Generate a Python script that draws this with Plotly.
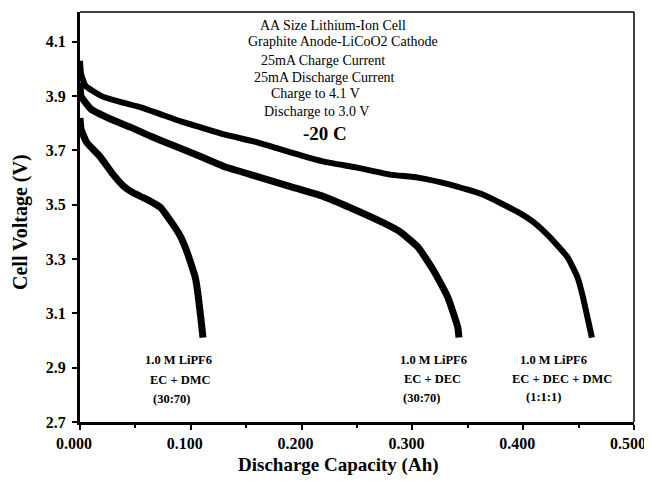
import plotly.graph_objects as go

# ---- data ----
cap_dmc = [0.000, 0.001, 0.006, 0.018, 0.030, 0.039, 0.048, 0.057, 0.066, 0.073, 0.079, 0.086,
           0.091, 0.096, 0.100, 0.104, 0.106, 0.109, 0.111]
volt_dmc = [3.82, 3.778, 3.730, 3.678, 3.611, 3.570, 3.544, 3.526, 3.507, 3.489, 3.456, 3.415,
            3.381, 3.333, 3.285, 3.233, 3.185, 3.085, 3.011]

cap_dec = [0.000, 0.001, 0.010, 0.028, 0.046, 0.064, 0.082, 0.100, 0.130, 0.160, 0.190, 0.220,
           0.244, 0.274, 0.289, 0.305, 0.319, 0.332, 0.341, 0.342]
volt_dec = [3.95, 3.900, 3.852, 3.815, 3.785, 3.752, 3.722, 3.693, 3.641, 3.604, 3.567, 3.530,
            3.489, 3.433, 3.400, 3.344, 3.259, 3.159, 3.048, 3.011]

cap_mix = [0.000, 0.001, 0.005, 0.019, 0.037, 0.055, 0.073, 0.091, 0.109, 0.130, 0.160, 0.190,
           0.220, 0.250, 0.280, 0.305, 0.334, 0.364, 0.395, 0.409, 0.424, 0.440, 0.449, 0.454,
           0.460, 0.462]
volt_mix = [4.03, 3.981, 3.938, 3.901, 3.878, 3.859, 3.833, 3.807, 3.785, 3.759, 3.730, 3.693,
            3.659, 3.637, 3.611, 3.600, 3.574, 3.537, 3.474, 3.437, 3.381, 3.307, 3.233, 3.159,
            3.048, 3.011]

x_ticks = [0.0, 0.1, 0.2, 0.3, 0.4, 0.5]
x_tick_labels = ["0.000", "0.100", "0.200", "0.300", "0.400", "0.500"]
y_ticks = [2.7, 2.9, 3.1, 3.3, 3.5, 3.7, 3.9, 4.1]
y_tick_labels = ["2.7", "2.9", "3.1", "3.3", "3.5", "3.7", "3.9", "4.1"]

x_title = "Discharge Capacity (Ah)"
y_title = "Cell Voltage (V)"
info_lines = ["AA Size Lithium-Ion Cell", "Graphite Anode-LiCoO2 Cathode", "25mA Charge Current",
              "25mA Discharge Current", "Charge to 4.1 V", "Discharge to 3.0 V"]
temp_label = "-20 C"
series_labels = [
    ["1.0 M LiPF6", "EC + DMC", "(30:70)"],
    ["1.0 M LiPF6", "EC + DEC", "(30:70)"],
    ["1.0 M LiPF6", "EC + DEC + DMC", "(1:1:1)"],
]

FONT = "Liberation Serif, Times New Roman, serif"
OFF = 8  # default page body margin of the html page
W, H = 652 - OFF, 481 - OFF
# plot area, in page pixels
L, R, T, B = 80, 634, 12, 422


def px(xp):
    return (xp - L) / (R - L)


def py(yp):
    return (B - yp) / (B - T)


fig = go.Figure()
for xs, ys, w in [(cap_dmc, volt_dmc, 7), (cap_dec, volt_dec, 7), (cap_mix, volt_mix, 6)]:
    fig.add_trace(go.Scatter(x=xs, y=ys, mode="lines",
                             line=dict(color="black", width=w, shape="spline", smoothing=0.4),
                             showlegend=False, hoverinfo="skip"))

annotations = []
info_pos = [(333, 25), (343, 42), (323, 60), (324, 77), (315, 94), (316, 111)]
for text, (xp, yp) in zip(info_lines, info_pos):
    annotations.append(dict(text=text, x=px(xp), y=py(yp), xref="paper", yref="paper",
                            showarrow=False, xanchor="center", yanchor="middle",
                            font=dict(family=FONT, size=14, color="black")))
annotations.append(dict(text=temp_label, x=px(325), y=py(133), xref="paper", yref="paper",
                        showarrow=False, xanchor="center", yanchor="middle",
                        font=dict(family=FONT, size=19, color="black", weight="bold")))

label_pos = [
    [(178, 360), (180, 380), (172, 399)],
    [(433, 360), (432, 379), (422, 398)],
    [(553, 360), (562, 379), (543, 397)],
]
for lines, poss in zip(series_labels, label_pos):
    for text, (xp, yp) in zip(lines, poss):
        annotations.append(dict(text=text, x=px(xp), y=py(yp), xref="paper", yref="paper",
                                showarrow=False, xanchor="center", yanchor="middle",
                                font=dict(family=FONT, size=12.5, color="black", weight="bold")))

annotations.append(dict(text=x_title, x=px(338), y=py(465), xref="paper", yref="paper",
                        showarrow=False, xanchor="center", yanchor="middle",
                        font=dict(family=FONT, size=19, color="black", weight="bold")))
annotations.append(dict(text=y_title, x=px(20), y=py(222), xref="paper", yref="paper",
                        showarrow=False, xanchor="center", yanchor="middle", textangle=-90,
                        font=dict(family=FONT, size=20, color="black", weight="bold")))

fig.update_layout(
    width=W, height=H,
    margin=dict(l=L - OFF, r=652 - R, t=T - OFF, b=481 - B),
    paper_bgcolor="white", plot_bgcolor="white",
    annotations=annotations,
    shapes=[
        dict(type="line", xref="paper", yref="paper", x0=0, x1=1, y0=1, y1=1,
             line=dict(color="black", width=1.5)),
        dict(type="line", xref="paper", yref="paper", x0=1, x1=1, y0=0, y1=1,
             line=dict(color="black", width=1.5)),
    ],
)
fig.update_xaxes(
    range=[0, 0.5], tickvals=x_ticks, ticktext=x_tick_labels, automargin=False,
    showgrid=False, zeroline=False, showline=True, linecolor="black", linewidth=3,
    ticks="outside", ticklen=5, tickwidth=2, tickcolor="black",
    ticklabelshift=-6, ticklabelstandoff=0,
    minor=dict(dtick=0.05, ticks="outside", ticklen=3, tickwidth=1.5, tickcolor="black"),
    tickfont=dict(family=FONT, size=16, color="black", weight="bold"),
)
fig.update_yaxes(
    range=[2.7, 4.21], tickvals=y_ticks, ticktext=y_tick_labels, automargin=False,
    showgrid=False, zeroline=False, showline=True, linecolor="black", linewidth=3,
    ticks="outside", ticklen=5, tickwidth=2, tickcolor="black",
    ticklabelstandoff=3,
    tickfont=dict(family=FONT, size=16, color="black", weight="bold"),
)

fig.write_html("out.html")
